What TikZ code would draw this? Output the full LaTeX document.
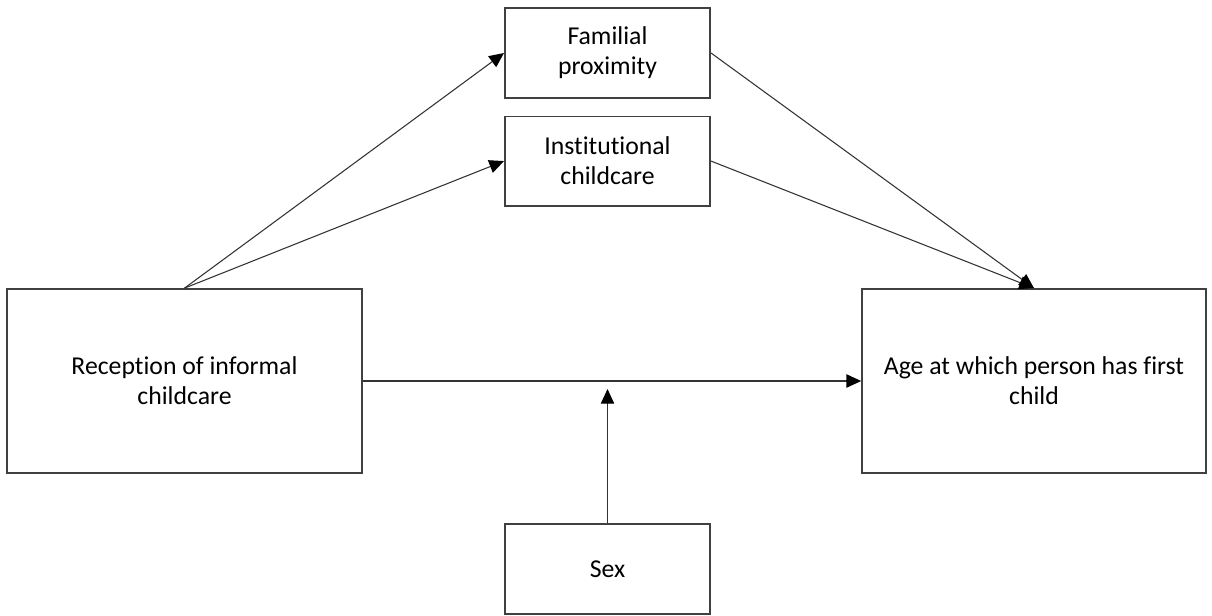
\documentclass[tikz,border=0pt]{standalone}
\usepackage{fontspec}
\setmainfont{Carlito}[Ligatures=NoCommon]
\usepackage{tikz}
\usetikzlibrary{arrows.meta,positioning}

\begin{document}
\begin{tikzpicture}[
  x=0.75pt, y=-0.75pt,
  node distance=12.75pt,
  box/.style={rectangle,draw=black!75,line width=1.3pt,align=center,inner sep=0pt,
    font=\fontsize{19.3}{22.5}\selectfont},
  bigbox/.style={box,minimum width=266pt,minimum height=138pt},
  smallbox/.style={box,minimum width=154pt,minimum height=67pt},
  arr/.style={-{Triangle[length=11pt,width=10pt,color=black]},line width=0.8pt,draw=black!80}
]
\useasboundingbox (0,0) rectangle (1212,615);
\node[bigbox] (recv) at (184.5,381) {Reception of informal\\childcare};
\node[bigbox,minimum width=258pt] (age) at (1034,381) {Age at which person has first\\child};
\node[smallbox] (fam) at (607.5,53) {Familial\\proximity};
\node[smallbox,below=12.75pt of fam] (inst) {Institutional\\childcare};
\node[smallbox] (sex) at (607.5,569) {Sex};
\coordinate (mod) at (607.5,389);
\draw[arr] (recv.north) -- (fam.west);
\draw[arr] (recv.north) -- (inst.west);
\draw[arr] (fam.east) -- (age.north);
\draw[arr] (inst.east) -- (age.north);
\draw[arr] (recv) -- (age);
\draw[arr] (sex) -- (mod);
\end{tikzpicture}
\end{document}
